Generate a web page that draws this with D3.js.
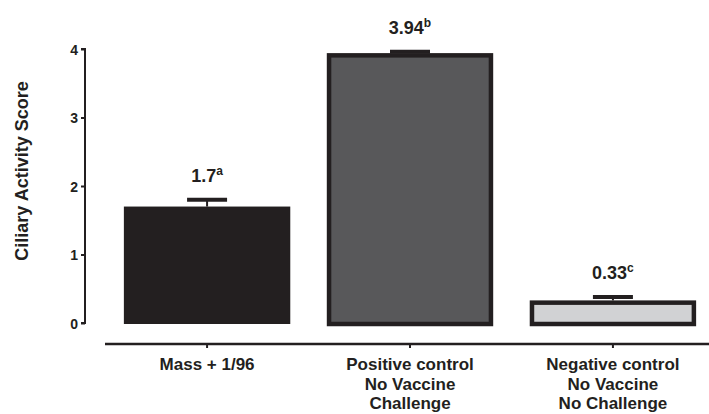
<!DOCTYPE html>
<html><head><meta charset="utf-8">
<script src="https://cdn.jsdelivr.net/npm/d3@7"></script>
<style>body{margin:0;background:#fff}svg{display:block}text{font-family:"Liberation Sans",Arial,sans-serif;font-weight:bold;fill:#231f20}</style>
</head><body><svg id="c" width="709" height="414"></svg>
<script>
const categories = ["Mass + 1/96", "Positive control|No Vaccine|Challenge", "Negative control|No Vaccine|No Challenge"];
const values = [1.7, 3.94, 0.33];
const errors = [0.1, 0.02, 0.05];
const valueLabels = ["1.7", "3.94", "0.33"];
const letters = ["a", "b", "c"];
const fills = ["#231f20", "#58585a", "#d1d2d4"];
const yTicks = [0, 1, 2, 3, 4];

const svg = d3.select("#c");
const x = d3.scaleBand().domain(categories).range([105, 715]).paddingInner(0.18).paddingOuter(0.093);
const y = d3.scaleLinear().domain([0, 4]).range([323, 49]);

// bars
categories.forEach((c, i) => {
  const bw = x.bandwidth();
  const sw = i === 0 ? 0 : 4.5;
  svg.append("rect")
    .attr("x", x(c) + sw / 2).attr("y", y(values[i]) + sw / 2)
    .attr("width", bw - sw).attr("height", y(0) - y(values[i]) - sw / 2 + 1)
    .attr("fill", fills[i]).attr("stroke", "#231f20").attr("stroke-width", sw);
  const cx = x(c) + bw / 2;
  const top = y(values[i] + errors[i]);
  svg.append("line").attr("x1", cx).attr("x2", cx).attr("y1", y(values[i])).attr("y2", top)
    .attr("stroke", "#231f20").attr("stroke-width", 2);
  svg.append("line").attr("x1", cx - 20).attr("x2", cx + 20).attr("y1", top).attr("y2", top)
    .attr("stroke", "#231f20").attr("stroke-width", 4);
  const t = svg.append("text").attr("x", cx).attr("y", top - 18).attr("text-anchor", "middle").attr("font-size", 18);
  t.append("tspan").text(valueLabels[i]);
  t.append("tspan").attr("dy", -7).attr("font-size", 12).text(letters[i]);
});

// y axis
const ya = svg.append("g").attr("transform", "translate(85,0)")
  .call(d3.axisLeft(y).tickValues(yTicks).tickFormat(d3.format("d")).tickSize(4).tickPadding(3));
ya.select(".domain").attr("stroke", "#231f20").attr("stroke-width", 2).attr("d", `M-4,${y(4)}H0V${y(0)}H-4`);
ya.selectAll(".tick line").attr("stroke", "#231f20").attr("stroke-width", 2);
ya.selectAll(".tick text").attr("font-size", 14).attr("fill", "#231f20").attr("font-family", "Liberation Sans, Arial, sans-serif").attr("font-weight", "bold").attr("dy", "0.36em");

// x axis
const xa = svg.append("g").attr("transform", "translate(0,344)")
  .call(d3.axisBottom(x).tickSize(4).tickFormat(""));
xa.select(".domain").attr("stroke", "#231f20").attr("stroke-width", 2.5).attr("d", "M105,0H709");
xa.selectAll(".tick line").attr("stroke", "#231f20").attr("stroke-width", 2);
categories.forEach(c => {
  const lines = c.split("|");
  const t = svg.append("text").attr("x", x(c) + x.bandwidth() / 2).attr("y", 370).attr("text-anchor", "middle").attr("font-size", 17);
  lines.forEach((l, j) => t.append("tspan").attr("x", x(c) + x.bandwidth() / 2).attr("dy", j ? 19.5 : 0).text(l));
});

// y label
svg.append("text").attr("transform", "translate(28,171) rotate(-90)").attr("text-anchor", "middle").attr("font-size", 18).text("Ciliary Activity Score");
</script></body></html>
